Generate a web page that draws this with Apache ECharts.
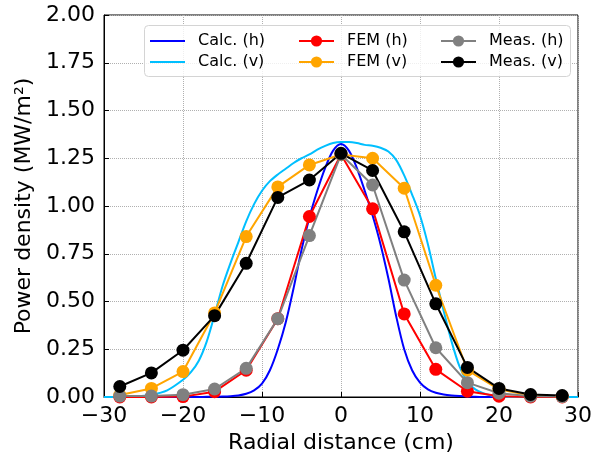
<!DOCTYPE html>
<html>
<head>
<meta charset="utf-8">
<script src="https://cdn.jsdelivr.net/npm/echarts@6/dist/echarts.min.js"></script>
<style>
html, body { margin: 0; padding: 0; background: #fff; }
#main { width: 595px; height: 455px; }
</style>
</head>
<body>
<div id="main"></div>
<script>
// measured / FEM positions (cm)
var posMeas = [-28, -24, -20, -16, -12, -8, -4, 0, 4, 8, 12, 16, 20, 24, 28];
var femH  = [0, 0, 0.002, 0.028, 0.14, 0.41, 0.945, 1.27, 0.985, 0.435, 0.145, 0.03, 0.004, 0, 0];
var femV  = [0.01, 0.045, 0.133, 0.44, 0.84, 1.10, 1.215, 1.27, 1.25, 1.093, 0.585, 0.14, 0.04, 0.008, 0.004];
var measH = [0.005, 0.005, 0.012, 0.042, 0.15, 0.41, 0.845, 1.27, 1.11, 0.612, 0.258, 0.075, 0.02, 0.004, 0.002];
var measV = [0.055, 0.126, 0.245, 0.426, 0.70, 1.045, 1.136, 1.276, 1.186, 0.865, 0.488, 0.155, 0.045, 0.013, 0.008];

// calculated profiles (cm)
var posCalc = [-30, -26, -24, -22, -20, -19, -18, -17, -16, -15, -14, -13, -12, -11, -10, -9, -8, -7, -6, -5, -4, -3, -2, -1,
               0, 1, 2, 3, 4, 5, 6, 7, 8, 9, 10, 11, 12, 13, 14, 15, 16, 17, 18, 19, 20, 22, 24, 26, 30];
var calcH = [0, 0, 0, 0, 0, 0, 0, 0.001, 0.001, 0.002, 0.004, 0.008, 0.017, 0.035, 0.07, 0.14, 0.25, 0.39, 0.57, 0.77, 0.94, 1.08, 1.20, 1.29,
             1.325, 1.29, 1.20, 1.08, 0.95, 0.80, 0.62, 0.42, 0.25, 0.14, 0.075, 0.04, 0.022, 0.013, 0.008, 0.005, 0.003, 0.001, 0, 0, 0, 0, 0, 0, 0];
var calcV = [0, 0.003, 0.012, 0.035, 0.09, 0.13, 0.19, 0.29, 0.43, 0.58, 0.70, 0.81, 0.92, 1.01, 1.08, 1.13, 1.165, 1.195, 1.225, 1.25, 1.27, 1.295, 1.315, 1.33,
             1.335, 1.335, 1.33, 1.32, 1.315, 1.305, 1.285, 1.24, 1.16, 1.06, 0.95, 0.80, 0.62, 0.45, 0.29, 0.16, 0.08, 0.04, 0.02, 0.008, 0.003, 0, 0, 0, 0];

var xTicks = { min: -30, max: 30, step: 10 };
var yTicks = { min: 0, max: 2, step: 0.25 };

function pairs(xs, ys) {
    var out = [];
    for (var i = 0; i < xs.length; i++) out.push([xs[i], ys[i]]);
    return out;
}

function lineSeries(name, color, xs, ys) {
    return {
        name: name,
        type: 'line',
        data: pairs(xs, ys),
        smooth: 0.3,
        showSymbol: false,
        symbol: 'none',
        lineStyle: { color: color, width: 2 },
        itemStyle: { color: color },
        z: 2
    };
}

function markerSeries(name, color, ys) {
    return {
        name: name,
        type: 'line',
        data: pairs(posMeas, ys),
        symbol: 'circle',
        symbolSize: 13,
        showSymbol: true,
        lineStyle: { color: color, width: 2 },
        itemStyle: { color: color },
        z: 3
    };
}

var font = 'DejaVu Sans';
var legendBase = {
    orient: 'vertical',
    top: 33,
    padding: 0,
    itemGap: 5,
    itemWidth: 35,
    itemHeight: 14,
    selectedMode: false,
    textStyle: { fontFamily: font, fontSize: 16, color: '#000', lineHeight: 16, padding: [0, 0, 0, 8] }
};

var chart = echarts.init(document.getElementById('main'));
var option = {
    backgroundColor: '#fff',
    animation: false,
    textStyle: { fontFamily: font },
    grid: {
        left: 104, right: 17, top: 15, bottom: 58,
        outerBoundsMode: 'none',
        show: true, borderColor: '#000', borderWidth: 1
    },
    graphic: [{
        type: 'rect',
        shape: { x: 144.5, y: 25.5, width: 426, height: 51, r: 4 },
        style: { fill: 'rgba(255,255,255,0.8)', stroke: '#d4d4d4', lineWidth: 1 },
        z: 3
    }],
    legend: [
        Object.assign({}, legendBase, {
            left: 150, itemHeight: 2,
            data: [{ name: 'Calc. (h)', icon: 'rect' }, { name: 'Calc. (v)', icon: 'rect' }]
        }),
        Object.assign({}, legendBase, { left: 298, data: ['FEM (h)', 'FEM (v)'] }),
        Object.assign({}, legendBase, { left: 440, data: ['Meas. (h)', 'Meas. (v)'] })
    ],
    xAxis: {
        type: 'value',
        min: xTicks.min, max: xTicks.max, interval: xTicks.step,
        name: 'Radial distance (cm)',
        nameLocation: 'middle',
        nameGap: 35,
        nameTextStyle: { fontFamily: font, fontSize: 22, color: '#000' },
        axisLine: { show: true, onZero: false, lineStyle: { color: '#000', width: 1 } },
        axisTick: { show: true, inside: true, length: 5, lineStyle: { color: '#000' } },
        axisLabel: {
            fontFamily: font, fontSize: 22, color: '#000', margin: 8,
            formatter: function (v) { return v < 0 ? '\u2212' + Math.abs(v) : String(v); }
        },
        splitLine: { show: true, lineStyle: { color: '#b0b0b0', type: 'dotted', width: 1 } }
    },
    yAxis: {
        type: 'value',
        min: yTicks.min, max: yTicks.max, interval: yTicks.step,
        name: 'Power density (MW/m\u00b2)',
        nameLocation: 'middle',
        nameGap: 65,
        nameTextStyle: { fontFamily: font, fontSize: 22, color: '#000' },
        axisLine: { show: true, onZero: false, lineStyle: { color: '#000', width: 1 } },
        axisTick: { show: true, inside: true, length: 5, lineStyle: { color: '#000' } },
        axisLabel: {
            fontFamily: font, fontSize: 22, color: '#000', margin: 9,
            formatter: function (v) { return v.toFixed(2); }
        },
        splitLine: { show: true, lineStyle: { color: '#b0b0b0', type: 'dotted', width: 1 } }
    },
    series: [
        lineSeries('Calc. (h)', '#0000ff', posCalc, calcH),
        lineSeries('Calc. (v)', '#00bfff', posCalc, calcV),
        markerSeries('FEM (h)', '#ff0000', femH),
        markerSeries('FEM (v)', '#ffa500', femV),
        markerSeries('Meas. (h)', '#808080', measH),
        markerSeries('Meas. (v)', '#000000', measV)
    ]
};
chart.setOption(option);
</script>
</body>
</html>
